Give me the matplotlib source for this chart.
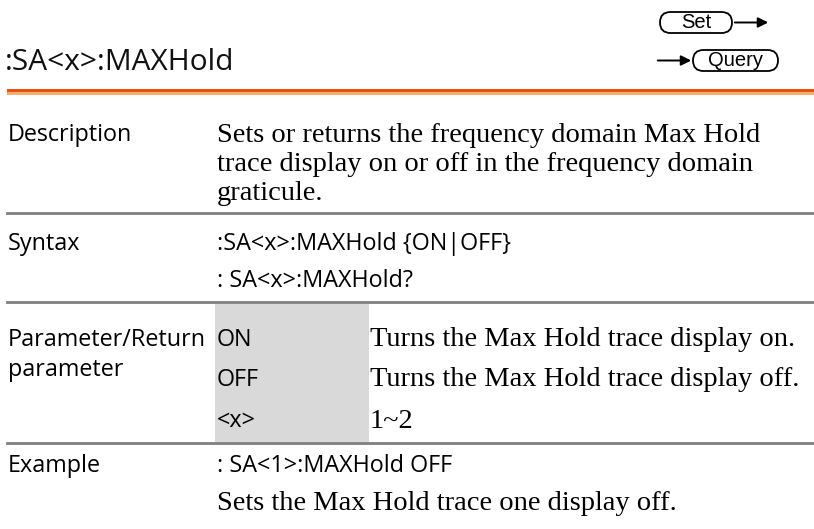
import matplotlib
matplotlib.use("Agg")
import matplotlib.pyplot as plt
from matplotlib.patches import Rectangle, FancyBboxPatch

# page content
title = ":SA<x>:MAXHold"
section_labels = ["Description", "Syntax", "Parameter/Return\nparameter", "Example"]
description_lines = ["Sets or returns the frequency domain Max Hold",
                     "trace display on or off in the frequency domain",
                     "graticule."]
syntax_lines = [":SA<x>:MAXHold {ON|OFF}", ": SA<x>:MAXHold?"]
param_names = ["ON", "OFF", "<x>"]
param_desc = ["Turns the Max Hold trace display on.",
              "Turns the Max Hold trace display off.",
              "1~2"]
example_cmd = ": SA<1>:MAXHold OFF"
example_desc = "Sets the Max Hold trace one display off."

SANS = "Open Sans"
SERIF = "Liberation Serif"

fig = plt.figure(figsize=(8.14, 5.29), dpi=100)
ax = fig.add_axes([0, 0, 1, 1])
ax.set_xlim(0, 814)
ax.set_ylim(529, 0)
ax.axis("off")

# header
ax.text(5, 63, title, family=SANS, fontsize=21.5, va="center", ha="left", color="#111111")
ax.add_patch(Rectangle((7, 88.5), 807, 3.5, color="#E8500C", lw=0))
ax.add_patch(Rectangle((7, 92), 807, 3, color="#F6AD72", lw=0))

# Set / Query badges
ax.add_patch(FancyBboxPatch((660, 12), 72, 21, boxstyle="round,pad=0,rounding_size=10.5",
                            fc="white", ec="black", lw=1.3))
ax.text(696, 22.5, "Set", family="Liberation Sans", fontsize=14.5, ha="center", va="center")
ax.annotate("", xy=(771, 22.5), xytext=(732, 22.5),
            arrowprops=dict(arrowstyle="-|>", color="black", lw=1.4, mutation_scale=15))
ax.add_patch(FancyBboxPatch((693, 50), 85, 21, boxstyle="round,pad=0,rounding_size=10.5",
                            fc="white", ec="black", lw=1.3))
ax.text(735.5, 60.5, "Query", family="Liberation Sans", fontsize=14.5, ha="center", va="center")
ax.annotate("", xy=(694, 60.5), xytext=(655, 60.5),
            arrowprops=dict(arrowstyle="-|>", color="black", lw=1.4, mutation_scale=15))

# dividers
for y in [213, 302, 443]:
    ax.plot([7, 814], [y, y], color="#7F7F7F", lw=2)

# shaded parameter column
ax.add_patch(Rectangle((215, 303.5), 154, 138.5, color="#D9D9D9", lw=0))

col1, col2, col3 = 8, 217, 370
lab_size, serif_size = 16.8, 20.5

# Description
ax.text(col1, 135, section_labels[0], family=SANS, fontsize=lab_size, va="center")
for i, line in enumerate(description_lines):
    ax.text(col2, 135 + 29.5 * i, line, family=SERIF, fontsize=serif_size, va="center")

# Syntax
ax.text(col1, 244, section_labels[1], family=SANS, fontsize=lab_size, va="center")
for i, line in enumerate(syntax_lines):
    ax.text(col2, 244 + 37 * i, line, family=SANS, fontsize=lab_size, va="center")

# Parameter/Return
param_y = [340, 380, 421]
label_lines = section_labels[2].split("\n")
ax.text(col1, param_y[0], label_lines[0], family=SANS, fontsize=lab_size, va="center")
ax.text(col1, param_y[0] + 30, label_lines[1], family=SANS, fontsize=lab_size, va="center")
for y, name, desc in zip(param_y, param_names, param_desc):
    ax.text(col2, y, name, family=SANS, fontsize=lab_size, va="center")
    ax.text(col3, y, desc, family=SERIF, fontsize=serif_size, va="center")

# Example
ax.text(col1, 466, section_labels[3], family=SANS, fontsize=lab_size, va="center")
ax.text(col2, 466, example_cmd, family=SANS, fontsize=lab_size, va="center")
ax.text(col2, 504, example_desc, family=SERIF, fontsize=serif_size, va="center")

fig.savefig("out.png", dpi=100, facecolor="white")
